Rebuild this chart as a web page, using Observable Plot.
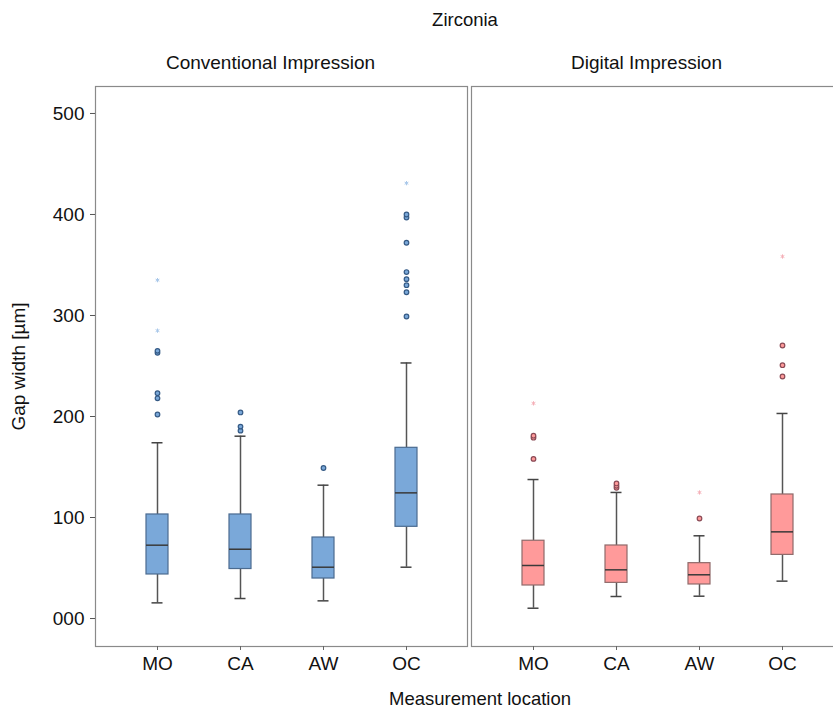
<!DOCTYPE html>
<html>
<head>
<meta charset="utf-8">
<script src="https://cdn.jsdelivr.net/npm/d3@7"></script>
<script src="https://cdn.jsdelivr.net/npm/@observablehq/plot@0.6"></script>
<style>
  html, body { margin: 0; padding: 0; background: #fff; overflow: hidden; }
  #wrap { position: relative; width: 833px; height: 708px; overflow: hidden; font-family: "Liberation Sans", Arial, sans-serif; color: #111; }
  #wrap svg { max-width: none !important; overflow: hidden; }
  .lbl { position: absolute; font-size: 18.5px; line-height: 1; white-space: nowrap; transform: translateX(-50%); }
</style>
</head>
<body>
<div id="wrap">
  <div class="lbl" style="left:465px; top:11px;">Zirconia</div>
  <div class="lbl" style="left:480px; top:690px;">Measurement location</div>
</div>
<script>
const title = "Zirconia";
const xTitle = "Measurement location";
const yTitle = "Gap width [µm]";
const impressions = ["Conventional Impression", "Digital Impression"];
const locations = ["MO", "CA", "AW", "OC"];
const yTicks = [0, 100, 200, 300, 400, 500];

// Conventional impression box statistics (per location)
const convLow    = [15.5, 19.8, 17.5, 50.8];
const convQ1     = [43.6, 49.0, 39.6, 90.8];
const convMedian = [72.6, 68.6, 50.8, 124.4];
const convQ3     = [103.0, 103.0, 80.2, 169.0];
const convHigh   = [174.0, 180.5, 132.0, 253.0];
const convOutliers = [[202, 218, 223, 263, 265], [186, 190, 204], [149], [299, 323, 330, 336, 343, 372, 397, 400]];
const convExtremes = [[285, 335], [], [], [431]];

// Digital impression box statistics (per location)
const digLow    = [10.2, 21.8, 22.1, 37.0];
const digQ1     = [32.7, 35.3, 33.7, 63.0];
const digMedian = [52.5, 48.2, 43.3, 85.8];
const digQ3     = [77.0, 72.3, 54.8, 122.8];
const digHigh   = [137.6, 124.8, 81.9, 203.0];
const digOutliers = [[158, 179, 181], [129.4, 131.4, 133.7], [99], [239.6, 250.8, 270.3]];
const digExtremes = [[213], [], [124.8], [358.4]];

const fills = ["#7aa8d9", "#ff9a9a"];
const strokes = ["#4b6b90", "#8f6a6a"];
const dotStrokes = ["#355a85", "#8a4a55"];
const extremeColors = ["#a9c8ea", "#f5b0b8"];

const groups = [
  {imp: impressions[0], low: convLow, q1: convQ1, med: convMedian, q3: convQ3, high: convHigh, out: convOutliers, ext: convExtremes},
  {imp: impressions[1], low: digLow, q1: digQ1, med: digMedian, q3: digQ3, high: digHigh, out: digOutliers, ext: digExtremes}
];

const stats = [], outliers = [], extremes = [];
groups.forEach((g, gi) => {
  locations.forEach((loc, i) => {
    stats.push({impression: g.imp, gi, location: loc, low: g.low[i], q1: g.q1[i], median: g.med[i], q3: g.q3[i], high: g.high[i]});
    g.out[i].forEach(v => outliers.push({impression: g.imp, gi, location: loc, value: v}));
    g.ext[i].forEach(v => extremes.push({impression: g.imp, gi, location: loc, value: v}));
  });
});

const chart = Plot.plot({
  width: 833,
  height: 708,
  marginLeft: 94,
  marginRight: -11,
  marginTop: 86,
  marginBottom: 62,
  style: {fontFamily: "Liberation Sans, Arial, sans-serif", fontSize: "19px", color: "#111", background: "white", maxWidth: "none", overflow: "hidden"},
  fx: {domain: impressions, paddingInner: 0.0106, paddingOuter: 0},
  x: {type: "band", domain: locations, paddingInner: 0.738, paddingOuter: 0.589},
  y: {domain: [-27.7, 526.7]},
  marks: [
    Plot.frame({stroke: "#8a8a8a", strokeWidth: 1.2}),
    Plot.axisFx({anchor: "top", label: null, tickSize: 0, tickPadding: 18, dx: -11, fontSize: 19}),
    Plot.axisY({ticks: yTicks, tickFormat: d3.format("03d"), tickSize: 5, tickPadding: 6, label: yTitle, labelAnchor: "center", labelArrow: "none", labelOffset: 84, fontSize: 19, stroke: "#555"}),
    Plot.axisX({label: null, tickSize: 4, tickPadding: 6, fontSize: 19, stroke: "#666"}),
    Plot.ruleX(stats, {fx: "impression", x: "location", y1: "low", y2: "q1", stroke: "#555", strokeWidth: 1.5}),
    Plot.ruleX(stats, {fx: "impression", x: "location", y1: "q3", y2: "high", stroke: "#555", strokeWidth: 1.5}),
    Plot.tickY(stats, {fx: "impression", x: "location", y: "low", stroke: "#444", strokeWidth: 1.5, insetLeft: 5.5, insetRight: 5.5}),
    Plot.tickY(stats, {fx: "impression", x: "location", y: "high", stroke: "#444", strokeWidth: 1.5, insetLeft: 5.5, insetRight: 5.5}),
    Plot.barY(stats, {fx: "impression", x: "location", y1: "q1", y2: "q3", fill: d => fills[d.gi], stroke: d => strokes[d.gi], strokeWidth: 1.2}),
    Plot.tickY(stats, {fx: "impression", x: "location", y: "median", stroke: "#3a3a3a", strokeWidth: 1.5}),
    Plot.dot(outliers, {fx: "impression", x: "location", y: "value", r: 2.3, fill: d => fills[d.gi], stroke: d => dotStrokes[d.gi], strokeWidth: 1.2}),
    Plot.dot(extremes, {fx: "impression", x: "location", y: "value", r: 2, symbol: "asterisk", stroke: d => extremeColors[d.gi], strokeWidth: 1})
  ]
});
chart.style.maxWidth = "none";
chart.style.position = "absolute";
chart.style.left = "0";
chart.style.top = "0";
document.getElementById("wrap").prepend(chart);
</script>
</body>
</html>
